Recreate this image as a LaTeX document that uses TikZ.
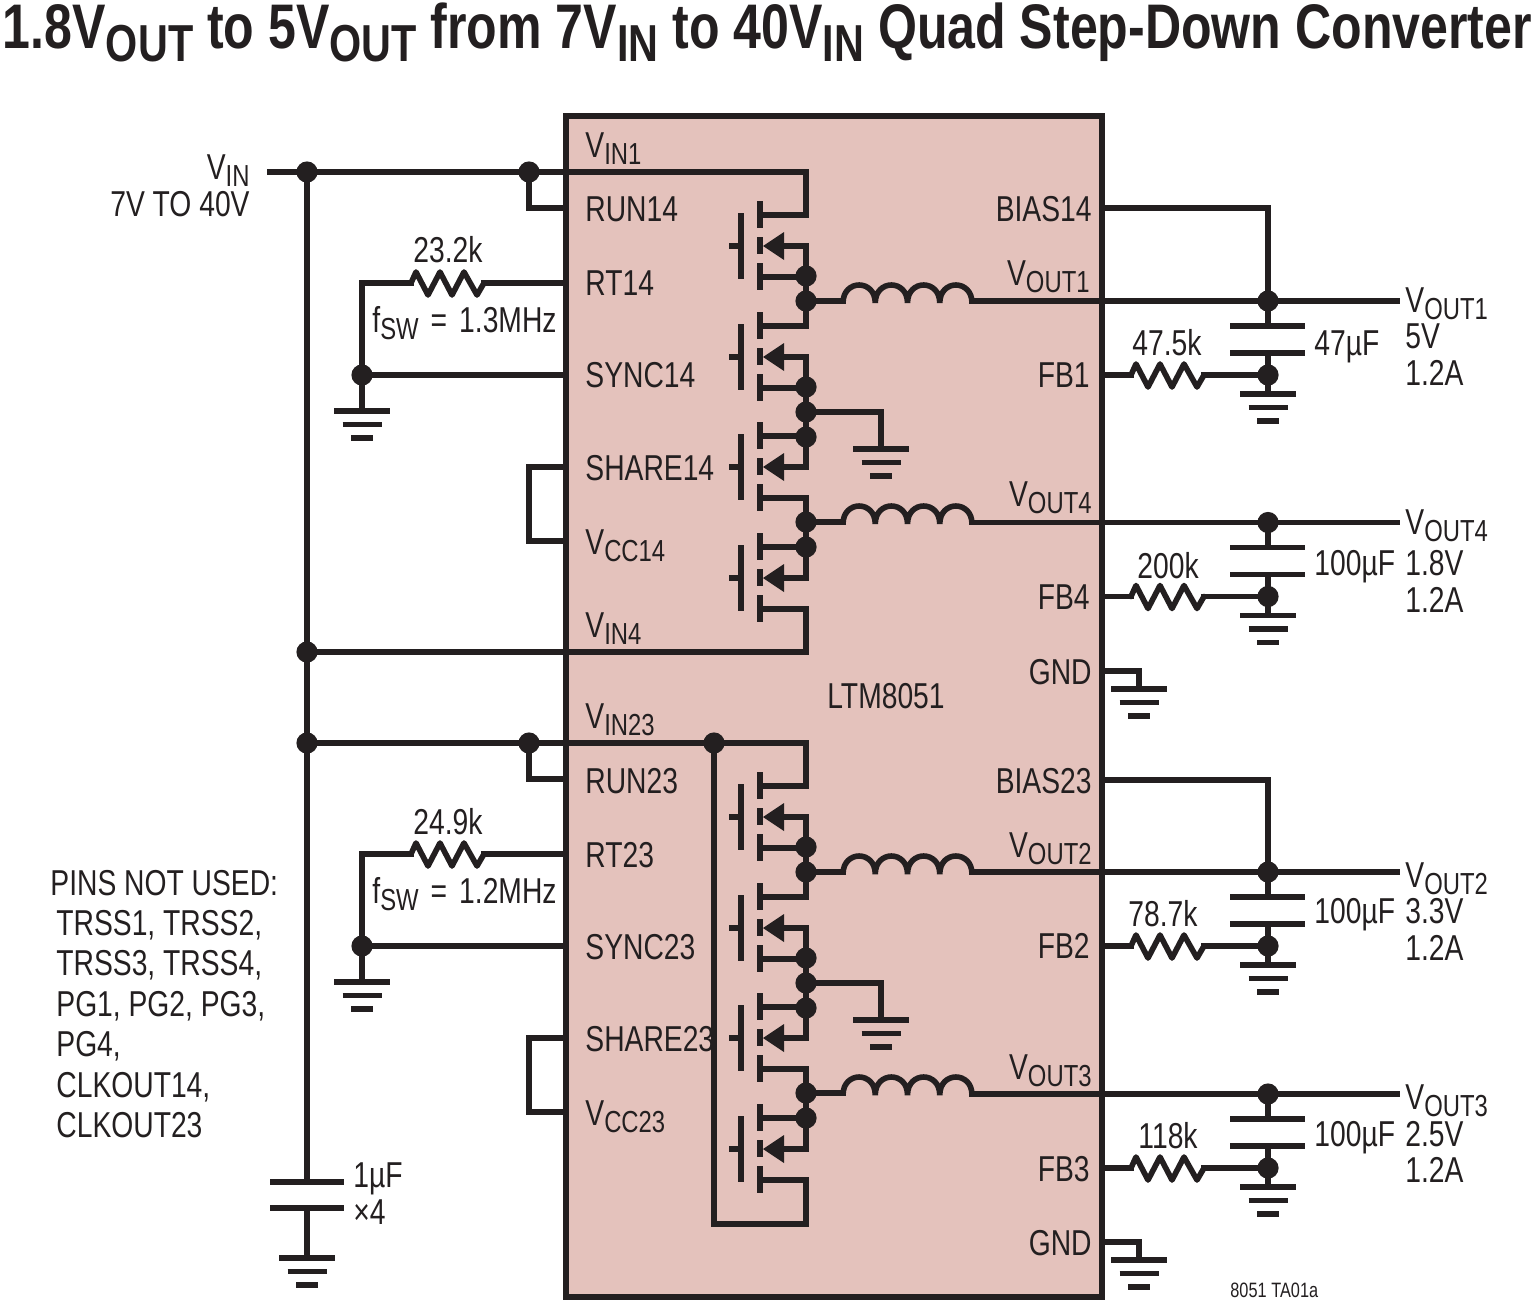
\documentclass[tikz,border=0pt]{standalone}
\usepackage{fontspec}
\setmainfont[FakeStretch=0.785]{Liberation Sans}
\newfontfamily\titlefont[FakeStretch=0.795]{Liberation Sans Bold}
\definecolor{ink}{HTML}{231F20}
\definecolor{chip}{HTML}{E4C2BC}
\newcommand{\sbs}[1]{\raisebox{-3.5pt}{\fontsize{15.2}{15.2}\selectfont #1}}
\newcommand{\tsbs}[1]{\raisebox{-6.5pt}{\fontsize{26}{26}\selectfont #1}}
\tikzset{
  wire/.style={draw=ink,line width=2.8pt,line cap=rect,line join=miter},
  bar/.style={draw=ink,line width=2.8pt,line cap=butt},
  dot/.style={circle,fill=ink,inner sep=0pt,minimum size=10.6pt},
  lbl/.style={inner sep=0pt,text=ink,font=\fontsize{18}{22}\selectfont},
  pinl/.style={lbl,anchor=base west},
  pinr/.style={lbl,anchor=base east},
  pinc/.style={lbl,anchor=base},
  pics/fet/.style={code={
    \draw[bar] (-31,0) -- (-19,0);
    \draw[bar] (-19,-33) -- (-19,33);
    \draw[bar] (0,-45) -- (0,-18) (0,-9) -- (0,8) (0,17) -- (0,44);
    \draw[wire] (0,-31) -- (46,-31) (0,31) -- (46,31) (46,0) -- (20,0);
    \fill[ink] (3,0) -- (24,-14) -- (24,14) -- cycle;
  }},
  pics/gndbars/.style={code={
    \draw[bar] (-28,0) -- (28,0);
    \draw[bar] (-19.5,13.5) -- (19.5,13.5);
    \draw[bar] (-11,27) -- (11,27);
  }},
  pics/coil/.style={code={
    \draw[bar] (0,2) .. controls (0,-22) and (32.25,-22) .. (32.25,2)
       .. controls (32.25,-22) and (64.5,-22) .. (64.5,2)
       .. controls (64.5,-22) and (96.75,-22) .. (96.75,2)
       .. controls (96.75,-22) and (129,-22) .. (129,2);
  }},
  pics/resist/.style={code={
    \draw[wire,line cap=round,line join=round] (0,0) -- (5,-11) -- (17,12) -- (29,-11) -- (41,12) -- (53,-11) -- (66,12) -- (73,0);
  }},
  pics/fetstack/.style={code={
    \node[dot] (-in) at (529,172) {};
    \coordinate (-top) at (806,172);
    \coordinate (-run) at (566,208);
    \coordinate (-rt) at (566,283);
    \coordinate (-sync) at (566,375);
    \coordinate (-sh) at (566,467);
    \coordinate (-vcc) at (566,541);
    \node[dot] (-d1) at (806,276) {};
    \node[dot] (-d2) at (806,301) {};
    \node[dot] (-d3) at (806,387) {};
    \node[dot] (-d4) at (806,412) {};
    \node[dot] (-d5) at (806,437) {};
    \node[dot] (-d6) at (806,522) {};
    \node[dot] (-d7) at (806,547) {};
    \node[dot] (-syn) at (362,375) {};
    \coordinate (-gi) at (881,449);
    \coordinate (-gl) at (362,411);
    \coordinate (-r1) at (484,283);
    \coordinate (-r2) at (411,283);
    \coordinate (-l1a) at (843,301);
    \coordinate (-l4a) at (843,522);
    \pic at (760,246) {fet};
    \pic at (760,357) {fet};
    \pic at (760,467) {fet};
    \pic at (760,578) {fet};
    \draw[wire] (-top) -- (806,214);
    \draw[wire] (806,246) -- (-d1) -- (-d2) -- (806,326);
    \draw[wire] (806,357) -- (-d3) -- (-d4) -- (-d5) -- (806,467);
    \draw[wire] (806,498) -- (-d6) -- (-d7) -- (806,578);
    \draw[wire] (-d2) -- (-l1a);
    \draw[wire] (-d6) -- (-l4a);
    \pic at (843,301) {coil};
    \pic at (843,522) {coil};
    \draw[wire] (-in) |- (-run);
    \draw[wire] (-rt) -- (-r1);
    \draw[wire] (-r2) -| (-syn);
    \draw[wire] (-syn) -- (-sync);
    \draw[wire] (-syn) -- (-gl);
    \pic at (411,283) {resist};
    \pic at (362,411) {gndbars};
    \draw[wire] (-d4) -| (-gi);
    \pic at (881,449) {gndbars};
    \draw[wire] (-sh) -- (529,467) -- (529,541) -- (-vcc);
  }},
  pics/outblock/.style={code={
    \coordinate (-a) at (972,301);
    \coordinate (-b) at (1397,301);
    \coordinate (-fb) at (1102,375);
    \coordinate (-r1) at (1131,375);
    \coordinate (-r2) at (1204,375);
    \coordinate (-g) at (1268,394);
    \coordinate (-c1) at (1268,326);
    \coordinate (-c2) at (1268,353);
    \node[dot] (-v) at (1268,301) {};
    \node[dot] (-f) at (1268,375) {};
    \draw[wire] (-a) -- (-b);
    \draw[wire] (-v) -- (-c1);
    \draw[wire] (-c2) -- (-g);
    \draw[bar] (1230,326) -- (1305,326);
    \draw[bar] (1230,353) -- (1305,353);
    \draw[wire] (-fb) -- (-r1);
    \draw[wire] (-r2) -- (-f);
    \pic at (1131,375) {resist};
    \pic at (1268,394) {gndbars};
  }},
}
\begin{document}
\begin{tikzpicture}[x=0.5pt,y=-0.5pt]
\useasboundingbox (0,0) rectangle (1535,1301);
\draw[draw=ink,fill=chip,line width=3pt] (566,116) rectangle (1102,1297);
% title
\node[inner sep=0pt,anchor=base,text=ink] (title) at (767.5,48) {\titlefont\fontsize{31.5}{34}\selectfont 1.8V\tsbs{OUT} to 5V\tsbs{OUT} from 7V\tsbs{IN} to 40V\tsbs{IN} Quad Step-Down Converter};
% switcher halves
\pic (up) at (0,0) {fetstack};
\pic (lo) at (0,571) {fetstack};
% outputs
\pic (o1) at (0,0) {outblock};
\pic (o4) at (0,221.5) {outblock};
\pic (o2) at (0,571) {outblock};
\pic (o3) at (0,793) {outblock};
% input rail
\coordinate (vin) at (270,172);
\node[dot] (n1) at (307,172) {};
\node[dot] (n2) at (307,652) {};
\node[dot] (n3) at (307,743) {};
\node[dot] (n4) at (714,743) {};
\coordinate (c1) at (307,1182);
\coordinate (c2) at (307,1208);
\coordinate (cg) at (307,1258);
\draw[wire] (vin) -- (n1) -- (up-in) -- (up-top);
\draw[wire] (n1) -- (n2) -- (n3) -- (c1);
\draw[wire] (n2) -- (806,652) -- (806,609);
\draw[wire] (n3) -- (lo-in) -- (n4) -- (lo-top);
\draw[wire] (n4) -- (714,1224) -- (806,1224) -- (806,1180);
\draw[bar] (270,1182) -- (344,1182);
\draw[bar] (270,1208) -- (344,1208);
\draw[wire] (c2) -- (cg);
\pic at (307,1258) {gndbars};
% bias and ground pins
\coordinate (b14) at (1102,208);
\coordinate (b23) at (1102,780);
\coordinate (g1) at (1102,671);
\coordinate (g2) at (1102,1242);
\coordinate (g1b) at (1139,689);
\coordinate (g2b) at (1139,1260);
\draw[wire] (b14) -| (o1-v);
\draw[wire] (b23) -| (o2-v);
\draw[wire] (g1) -| (g1b);
\draw[wire] (g2) -| (g2b);
\pic at (1139,689) {gndbars};
\pic at (1139,1260) {gndbars};
% left pins
\node[pinl] (tvin1) at (585,157) {V\sbs{IN1}};
\node[pinl] (trun14) at (585,221) {RUN14};
\node[pinl] (trt14) at (585,295) {RT14};
\node[pinl] (tsync14) at (585,387) {SYNC14};
\node[pinl] (tsh14) at (585,480) {SHARE14};
\node[pinl] (tvcc14) at (585,554) {V\sbs{CC14}};
\node[pinl] (tvin4) at (585,637) {V\sbs{IN4}};
\node[pinl] (tvin23) at (585,728) {V\sbs{IN23}};
\node[pinl] (trun23) at (585,793) {RUN23};
\node[pinl] (trt23) at (585,867) {RT23};
\node[pinl] (tsync23) at (585,959) {SYNC23};
\node[pinl] (tsh23) at (585,1051) {SHARE23};
\node[pinl] (tvcc23) at (585,1125) {V\sbs{CC23}};
% right pins
\node[pinr] (tb14) at (1092,221) {BIAS14};
\node[pinr] (tvo1) at (1090,285) {V\sbs{OUT1}};
\node[pinr] (tfb1) at (1090,387) {FB1};
\node[pinr] (tvo4) at (1092,506) {V\sbs{OUT4}};
\node[pinr] (tfb4) at (1090,609) {FB4};
\node[pinr] (tg1) at (1092,684) {GND};
\node[pinr] (tb23) at (1092,793) {BIAS23};
\node[pinr] (tvo2) at (1092,857) {V\sbs{OUT2}};
\node[pinr] (tfb2) at (1090,958) {FB2};
\node[pinr] (tvo3) at (1092,1079) {V\sbs{OUT3}};
\node[pinr] (tfb3) at (1090,1181) {FB3};
\node[pinr] (tg2) at (1092,1255) {GND};
\node[pinc] (tltm) at (886,708) {LTM8051};
% input side texts
\node[pinr] (tvin) at (250,179) {V\sbs{IN}};
\node[pinr] (trange) at (250,216) {7V TO 40V};
\node[pinc] (tr1) at (448,262) {23.2k};
\node[pinl] (tf1) at (372,332) {f\sbs{SW}\,\,=\,\,1.3MHz};
\node[pinc] (tr2) at (448,834) {24.9k};
\node[pinl] (tf2) at (372,903) {f\sbs{SW}\,\,=\,\,1.2MHz};
\node[pinl] (tnu0) at (50,895) {PINS NOT USED:};
\node[pinl] (tnu1) at (56,935) {TRSS1, TRSS2,};
\node[pinl] (tnu2) at (56,975) {TRSS3, TRSS4,};
\node[pinl] (tnu3) at (56,1016) {PG1, PG2, PG3,};
\node[pinl] (tnu4) at (56,1056) {PG4,};
\node[pinl] (tnu5) at (56,1097) {CLKOUT14,};
\node[pinl] (tnu6) at (56,1137) {CLKOUT23};
\node[pinl] (tc1) at (353,1187) {1µF};
\node[pinl] (tc2) at (353,1224) {×4};
% output side texts
\node[pinc] (tr47) at (1167,355) {47.5k};
\node[pinl] (tc47) at (1314,355) {47µF};
\node[pinl] (to1) at (1405,312) {V\sbs{OUT1}};
\node[pinl] (to1v) at (1405,348) {5V};
\node[pinl] (to1a) at (1405,385) {1.2A};
\node[pinc] (tr200) at (1168,578) {200k};
\node[pinl] (tc100a) at (1314,575) {100µF};
\node[pinl] (to4) at (1405,534) {V\sbs{OUT4}};
\node[pinl] (to4v) at (1405,575) {1.8V};
\node[pinl] (to4a) at (1405,612) {1.2A};
\node[pinc] (tr78) at (1163,926) {78.7k};
\node[pinl] (tc100b) at (1314,923) {100µF};
\node[pinl] (to2) at (1405,887) {V\sbs{OUT2}};
\node[pinl] (to2v) at (1405,923) {3.3V};
\node[pinl] (to2a) at (1405,960) {1.2A};
\node[pinc] (tr118) at (1168,1148) {118k};
\node[pinl] (tc100c) at (1314,1146) {100µF};
\node[pinl] (to3) at (1405,1109) {V\sbs{OUT3}};
\node[pinl] (to3v) at (1405,1146) {2.5V};
\node[pinl] (to3a) at (1405,1182) {1.2A};
\node[inner sep=0pt,anchor=base west,text=ink,font=\fontsize{10.4}{12}\selectfont] (tnum) at (1230,1297) {8051 TA01a};
\end{tikzpicture}
\end{document}
